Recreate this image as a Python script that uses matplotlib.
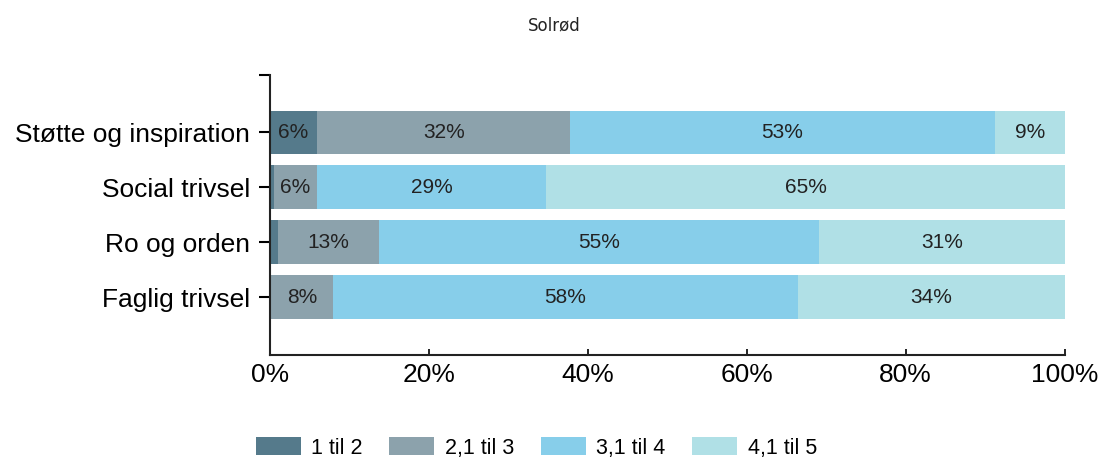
import numpy as np
import matplotlib.pyplot as plt
from matplotlib.patches import Patch

categories = ["Støtte og inspiration", "Social trivsel", "Ro og orden", "Faglig trivsel"]
series_names = ["1 til 2", "2,1 til 3", "3,1 til 4", "4,1 til 5"]
colors = ["#557a8b", "#8ca2ac", "#87ceea", "#b0e0e6"]

# shares in percent per category
s1 = [6.0, 0.5, 1.0, 0.2]
s2 = [31.8, 5.5, 12.7, 7.8]
s3 = [53.4, 28.8, 55.4, 58.4]
s4 = [8.8, 65.2, 30.9, 33.6]

plt.rcParams['font.family'] = ['Liberation Sans', 'DejaVu Sans']

fig = plt.figure(figsize=(11.01, 4.62), dpi=100)
ax = fig.add_axes([0.245, 0.232, 0.722, 0.606])

y = np.arange(len(categories))
left = np.zeros(len(categories))
for vals, col in zip([s1, s2, s3, s4], colors):
    vals = np.array(vals)
    ax.barh(y, vals, left=left, height=0.8, color=col, edgecolor='none')
    for yi, (l, v) in enumerate(zip(left, vals)):
        if v >= 5:
            ax.text(l + v / 2, yi, f"{v:.0f}%", ha='center', va='center',
                    fontsize=15, color='#222222')
    left += vals

ax.set_xlim(0, 100)
ax.set_ylim(4.05, -1.05)
ax.set_yticks(y)
ax.set_yticklabels(categories, fontsize=19)
ax.set_yticks([-1.05], minor=True)
ax.tick_params(axis='y', which='both', length=8, width=1.5, direction='out', pad=6)
ax.set_xticks(np.arange(0, 101, 20))
ax.set_xticklabels([f"{t}%" for t in range(0, 101, 20)], fontsize=19)
ax.tick_params(axis='x', length=4, width=1.2, direction='in', pad=6)

for s in ['top', 'right']:
    ax.spines[s].set_visible(False)
for s in ['left', 'bottom']:
    ax.spines[s].set_linewidth(1.5)
    ax.spines[s].set_color('#222222')

fig.text(0.503, 0.945, "Solrød", ha='center', va='center', fontsize=12,
         family='DejaVu Sans', color='#222222')

handles = [Patch(facecolor=c, edgecolor='none') for c in colors]
fig.legend(handles, series_names, loc='center', bbox_to_anchor=(0.487, 0.03),
           ncol=4, frameon=False, fontsize=15.5, handlelength=2.1, handleheight=0.9,
           columnspacing=1.25, handletextpad=0.47)

fig.savefig("out.png", dpi=100)
